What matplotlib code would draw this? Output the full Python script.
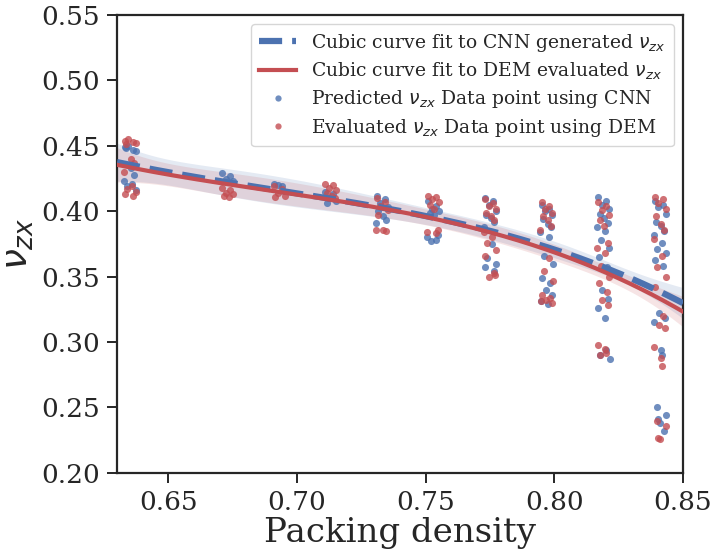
import numpy as np
import matplotlib
matplotlib.use("Agg")
import matplotlib.pyplot as plt
from matplotlib.lines import Line2D

# ---- data ----
x_centers = [0.635, 0.673, 0.693, 0.713, 0.733, 0.753, 0.775, 0.797, 0.819, 0.841]

cnn_values = [
    [0.449, 0.447, 0.450, 0.446, 0.448, 0.433, 0.428, 0.423, 0.421, 0.419, 0.416],
    [0.429, 0.427, 0.425, 0.423],
    [0.421, 0.419, 0.420],
    [0.415, 0.413, 0.410, 0.408, 0.406],
    [0.412, 0.409, 0.406, 0.403, 0.400, 0.396, 0.393, 0.391],
    [0.408, 0.404, 0.402, 0.400, 0.399, 0.397, 0.382, 0.380, 0.378, 0.377],
    [0.410, 0.408, 0.405, 0.400, 0.397, 0.395, 0.392, 0.388, 0.375, 0.364, 0.360, 0.357, 0.354],
    [0.405, 0.402, 0.400, 0.397, 0.394, 0.390, 0.388, 0.384, 0.380, 0.366, 0.360, 0.349,
     0.345, 0.340, 0.336, 0.331, 0.329],
    [0.411, 0.408, 0.405, 0.402, 0.398, 0.395, 0.391, 0.388, 0.385, 0.378, 0.372, 0.365,
     0.357, 0.340, 0.333, 0.326, 0.318, 0.294, 0.290, 0.287],
    [0.408, 0.405, 0.403, 0.398, 0.392, 0.389, 0.385, 0.382, 0.376, 0.371,
     0.368, 0.363, 0.358, 0.322, 0.318, 0.315, 0.294, 0.290, 0.250, 0.244, 0.241, 0.238, 0.232],
]

dem_values = [
    [0.454, 0.453, 0.455, 0.452, 0.451, 0.440, 0.437, 0.430, 0.419, 0.417, 0.415, 0.413, 0.412],
    [0.418, 0.416, 0.414, 0.413, 0.412, 0.411],
    [0.419, 0.417, 0.414, 0.412, 0.411],
    [0.421, 0.420, 0.418, 0.416, 0.414, 0.412, 0.410],
    [0.410, 0.407, 0.404, 0.401, 0.397, 0.386, 0.385, 0.386],
    [0.412, 0.411, 0.409, 0.407, 0.405, 0.402, 0.386, 0.384, 0.383],
    [0.409, 0.406, 0.404, 0.402, 0.399, 0.396, 0.393, 0.384, 0.380, 0.376, 0.370, 0.366,
     0.353, 0.350, 0.351],
    [0.407, 0.404, 0.402, 0.399, 0.396, 0.393, 0.389, 0.386, 0.364, 0.354, 0.347, 0.336,
     0.334, 0.332, 0.330, 0.331],
    [0.407, 0.404, 0.401, 0.397, 0.393, 0.389, 0.376, 0.372, 0.368, 0.358, 0.350, 0.345,
     0.338, 0.332, 0.328, 0.298, 0.295, 0.292, 0.290],
    [0.411, 0.409, 0.406, 0.402, 0.396, 0.390, 0.386, 0.379, 0.366, 0.357, 0.350, 0.342,
     0.320, 0.313, 0.311, 0.296, 0.288, 0.282, 0.240, 0.236, 0.227, 0.226],
]

x_ticks = [0.65, 0.70, 0.75, 0.80, 0.85]
y_ticks = [0.20, 0.25, 0.30, 0.35, 0.40, 0.45, 0.50, 0.55]

label_cnn_fit = r"Cubic curve fit to CNN generated $\nu_{zx}$"
label_dem_fit = r"Cubic curve fit to DEM evaluated $\nu_{zx}$"
label_cnn_pts = r"Predicted $\nu_{zx}$ Data point using CNN"
label_dem_pts = r"Evaluated $\nu_{zx}$ Data point using DEM"

BLUE = "#4C72B0"
RED = "#C44E52"

# deterministic small horizontal spread pattern (visual jitter only)
spread = [-0.0020, 0.0011, -0.0006, 0.0022, -0.0014, 0.0004, 0.0017, -0.0024, 0.0008, -0.0010,
          0.0024, -0.0018, 0.0014, -0.0003, 0.0020, -0.0022, 0.0006, 0.0010, -0.0012, 0.0025,
          -0.0008, 0.0002, 0.0015, -0.0016, 0.0009]

plt.rcParams["font.family"] = ["DejaVu Serif"]
plt.rcParams["mathtext.fontset"] = "dejavusans"

fig = plt.figure(figsize=(7.17, 5.55), dpi=100)
ax = fig.add_axes([0.1632, 0.148, 0.7894, 0.825])

xlim = (0.63, 0.85)
xgrid = np.linspace(xlim[0], xlim[1], 200)


def flatten(values):
    xs, xj, ys = [], [], []
    for xc, vals in zip(x_centers, values):
        for i, v in enumerate(vals):
            xs.append(xc)
            xj.append(xc + spread[i % len(spread)])
            ys.append(v)
    return np.array(xs), np.array(xj), np.array(ys)


def cubic_fit(xs, ys, z=1.2):
    X = np.vander(xs, 4)
    beta, *_ = np.linalg.lstsq(X, ys, rcond=None)
    resid = ys - X @ beta
    s2 = resid @ resid / (len(ys) - 4)
    cov = s2 * np.linalg.inv(X.T @ X)
    G = np.vander(xgrid, 4)
    yhat = G @ beta
    se = np.sqrt(np.einsum("ij,jk,ik->i", G, cov, G))
    return yhat, yhat - z * se, yhat + z * se


for values, color, ls, lw in [(cnn_values, BLUE, "--", 4.5), (dem_values, RED, "-", 3.0)]:
    xs, xj, ys = flatten(values)
    ax.scatter(xj, ys, s=26, color=color, alpha=0.8, linewidths=0, zorder=2)
    yhat, lo, hi = cubic_fit(xs, ys)
    ax.fill_between(xgrid, lo, hi, color=color, alpha=0.15, linewidth=0, zorder=1)
    ax.plot(xgrid, yhat, color=color, ls=ls, lw=lw, zorder=3)

ax.set_xlim(*xlim)
ax.set_ylim(0.20, 0.55)
ax.set_xticks(x_ticks)
ax.set_yticks(y_ticks)
ax.set_xticklabels([f"{t:.2f}" for t in x_ticks])
ax.set_yticklabels([f"{t:.2f}" for t in y_ticks])
ax.tick_params(axis="both", labelsize=19, length=7, width=1.4, color="#262626",
               labelcolor="#262626", direction="out", pad=5)
for sp in ax.spines.values():
    sp.set_linewidth(1.6)
    sp.set_color("#262626")

ax.set_xlabel("Packing density", fontsize=24.5, color="#262626", labelpad=2)
ax.set_ylabel(r"$\nu_{zx}$", fontsize=27, color="#262626", labelpad=4)

handles = [
    Line2D([], [], color=BLUE, ls="--", lw=4.5),
    Line2D([], [], color=RED, ls="-", lw=3.0),
    Line2D([], [], color=BLUE, ls="none", marker="o", markersize=4.5, alpha=0.8, markeredgewidth=0),
    Line2D([], [], color=RED, ls="none", marker="o", markersize=4.5, alpha=0.8, markeredgewidth=0),
]
leg = ax.legend(handles, [label_cnn_fit, label_dem_fit, label_cnn_pts, label_dem_pts],
                loc="upper right", fontsize=13.5, frameon=True, fancybox=True,
                borderpad=0.4, labelspacing=0.35, handlelength=2.0, handletextpad=0.8)
leg.get_frame().set_edgecolor("#cccccc")
leg.get_frame().set_linewidth(1.0)
for t in leg.get_texts():
    t.set_color("#262626")

fig.savefig("out.png", dpi=100)
